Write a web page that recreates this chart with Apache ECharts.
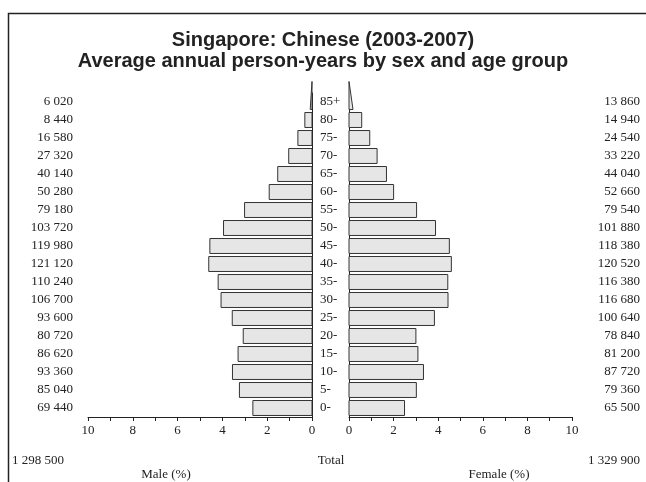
<!DOCTYPE html>
<html>
<head>
<meta charset="utf-8">
<title>Singapore: Chinese (2003-2007)</title>
<script src="https://cdn.jsdelivr.net/npm/echarts@6/dist/echarts.min.js"></script>
<style>
  html, body { margin: 0; padding: 0; background: #fff; }
  #chart { width: 646px; height: 482px; }
</style>
</head>
<body>
<div id="chart"></div>
<script>
// age groups, bottom to top
const ageGroups = ["0-", "5-", "10-", "15-", "20-", "25-", "30-", "35-", "40-",
  "45-", "50-", "55-", "60-", "65-", "70-", "75-", "80-", "85+"];

// person-years
const maleCounts = [69440, 85040, 93360, 86620, 80720, 93600, 106700, 110240, 121120,
  119980, 103720, 79180, 50280, 40140, 27320, 16580, 8440, 6020];
const femaleCounts = [65500, 79360, 87720, 81200, 78840, 100640, 116680, 116380, 120520,
  118380, 101880, 79540, 52660, 44040, 33220, 24540, 14940, 13860];

// bar lengths in % (85+ is the base of the open-ended triangle)
const malePct = [2.64, 3.24, 3.55, 3.30, 3.07, 3.56, 4.06, 4.19, 4.61,
  4.56, 3.95, 3.01, 1.91, 1.53, 1.04, 0.63, 0.32, 0.08];
const femalePct = [2.49, 3.02, 3.34, 3.09, 3.00, 3.83, 4.44, 4.43, 4.59,
  4.50, 3.88, 3.03, 2.00, 1.68, 1.26, 0.93, 0.57, 0.18];

const xTicks = [0, 2, 4, 6, 8, 10];
const maleTotal = "1 298 500";
const femaleTotal = "1 329 900";

const serif = "Liberation Serif";
const fmt = (n) => String(n).replace(/\B(?=(\d{3})+(?!\d))/g, " ");

function renderBar(params, api) {
  const v = api.value(0);
  const idx = api.value(1);
  const start = api.coord([0, idx]);
  const end = api.coord([v, idx]);
  const band = api.size([0, 1])[1];
  const h = band * 0.83;
  const style = { fill: "#e6e6e6", stroke: "#333", lineWidth: 1 };
  if (ageGroups[idx] === "85+") {
    // open-ended group drawn as a triangle
    return {
      type: "polygon",
      shape: {
        points: [
          [start[0], start[1] - band * 1.14],
          [start[0], start[1] + h / 2],
          [end[0], start[1] + h / 2],
        ],
      },
      style: style,
    };
  }
  return {
    type: "rect",
    shape: {
      x: Math.min(start[0], end[0]),
      y: start[1] - h / 2,
      width: Math.abs(end[0] - start[0]),
      height: h,
    },
    style: style,
  };
}

function xAxisFor(gridIndex, inverse) {
  return {
    type: "value",
    gridIndex: gridIndex,
    inverse: inverse,
    min: xTicks[0],
    max: xTicks[xTicks.length - 1],
    interval: xTicks[1] - xTicks[0],
    splitLine: { show: false },
    axisLine: { show: true, lineStyle: { color: "#222", width: 1 } },
    axisTick: { show: true, length: 4, lineStyle: { color: "#222" } },
    minorTick: { show: true, splitNumber: 2, length: 4, lineStyle: { color: "#222" } },
    axisLabel: { fontFamily: serif, fontSize: 13, color: "#222", margin: 7 },
  };
}

const myChart = echarts.init(document.getElementById("chart"));
const option = {
  backgroundColor: "#fff",
  animation: false,
  title: {
    text: "Singapore: Chinese (2003-2007)\nAverage annual person-years by sex and age group",
    left: "center",
    top: 25,
    textStyle: {
      fontFamily: "Liberation Sans",
      fontWeight: "bold",
      fontSize: 20,
      lineHeight: 21,
      color: "#222",
    },
  },
  grid: [
    { left: 88, right: 334, top: 93, bottom: 65 },
    { left: 349, right: 74, top: 93, bottom: 65 },
  ],
  xAxis: [xAxisFor(0, true), xAxisFor(1, false)],
  yAxis: [
    {
      type: "category",
      gridIndex: 0,
      position: "right",
      data: ageGroups,
      axisLine: { show: true, lineStyle: { color: "#222", width: 1 } },
      axisTick: { show: false },
      axisLabel: { show: false },
    },
    {
      type: "category",
      gridIndex: 0,
      position: "left",
      data: ageGroups,
      axisLine: { show: false },
      axisTick: { show: false },
      axisLabel: {
        margin: 15,
        fontFamily: serif,
        fontSize: 13,
        color: "#222",
        formatter: (val, i) => fmt(maleCounts[i]),
      },
    },
    {
      type: "category",
      gridIndex: 1,
      position: "left",
      data: ageGroups,
      axisLine: { show: true, lineStyle: { color: "#222", width: 1 } },
      axisTick: { show: false },
      axisLabel: {
        margin: 29,
        align: "left",
        fontFamily: serif,
        fontSize: 13,
        color: "#222",
      },
    },
    {
      type: "category",
      gridIndex: 1,
      position: "right",
      data: ageGroups,
      axisLine: { show: false },
      axisTick: { show: false },
      axisLabel: {
        margin: 68,
        align: "right",
        fontFamily: serif,
        fontSize: 13,
        color: "#222",
        formatter: (val, i) => fmt(femaleCounts[i]),
      },
    },
  ],
  series: [
    {
      name: "Male",
      type: "custom",
      xAxisIndex: 0,
      yAxisIndex: 0,
      renderItem: renderBar,
      encode: { x: 0, y: 1 },
      data: malePct.map((v, i) => [v, i]),
    },
    {
      name: "Female",
      type: "custom",
      xAxisIndex: 1,
      yAxisIndex: 2,
      renderItem: renderBar,
      encode: { x: 0, y: 1 },
      data: femalePct.map((v, i) => [v, i]),
    },
  ],
  graphic: [
    {
      type: "rect",
      shape: { x: 8.5, y: 13.5, width: 700, height: 500 },
      style: { fill: "none", stroke: "#222", lineWidth: 1.5 },
      silent: true,
    },
    {
      type: "text",
      left: 12,
      top: 454,
      style: { text: maleTotal, font: "13px 'Liberation Serif'", fill: "#222" },
    },
    {
      type: "text",
      right: 6,
      top: 454,
      style: { text: femaleTotal, font: "13px 'Liberation Serif'", fill: "#222" },
    },
    {
      type: "text",
      x: 331,
      y: 454,
      style: { text: "Total", font: "13px 'Liberation Serif'", fill: "#222", align: "center" },
    },
    {
      type: "text",
      x: 166,
      y: 468,
      style: { text: "Male (%)", font: "13px 'Liberation Serif'", fill: "#222", align: "center" },
    },
    {
      type: "text",
      x: 499,
      y: 468,
      style: { text: "Female (%)", font: "13px 'Liberation Serif'", fill: "#222", align: "center" },
    },
  ],
};
myChart.setOption(option);
</script>
</body>
</html>
